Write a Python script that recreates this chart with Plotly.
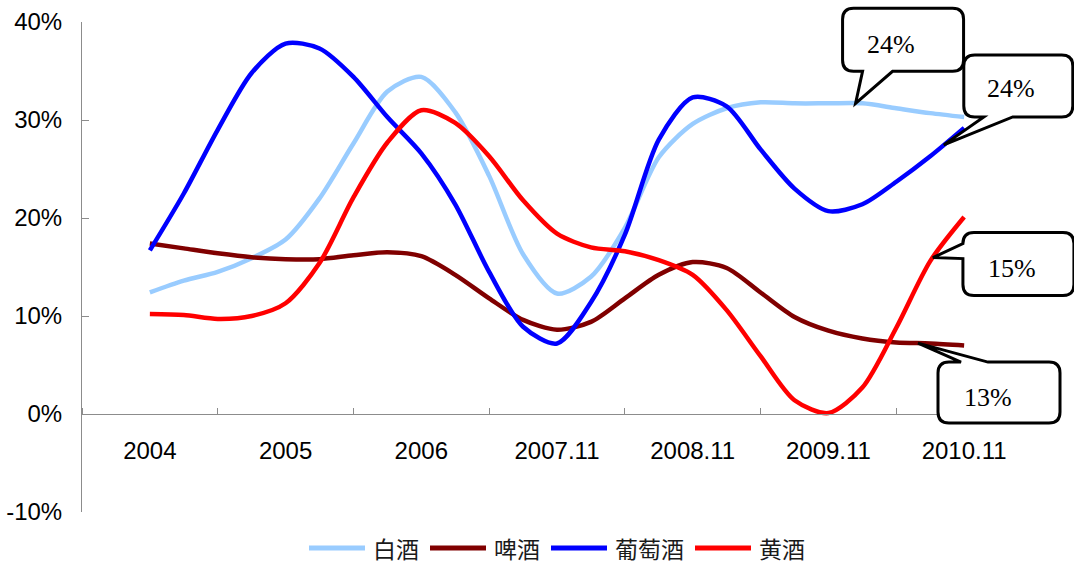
import numpy as np
import plotly.graph_objects as go

# Category labels along the x axis
periods = ["2004", "2005", "2006", "2007.11", "2008.11", "2009.11", "2010.11"]

# Value-axis ticks (%)
y_ticks = [-10, 0, 10, 20, 30, 40]

# Year-on-year growth (%), sampled every quarter of a category step
baijiu = [12.4, 13.6, 14.5, 15.9, 17.8, 22.0, 27.6, 32.9, 34.4, 30.8, 24.3, 16.3, 12.3,
          14.0, 19.0, 26.2, 29.6, 31.2, 31.8, 31.7, 31.7, 31.7, 31.2, 30.7, 30.3]
pijiu = [17.4, 16.9, 16.4, 16.0, 15.8, 15.8, 16.2, 16.5, 16.1, 14.2, 11.8, 9.6, 8.6,
         9.4, 11.8, 14.2, 15.5, 14.9, 12.4, 9.9, 8.5, 7.7, 7.3, 7.2, 7.0]
putaojiu = [16.7, 22.5, 29.0, 34.8, 37.8, 37.3, 34.4, 30.3, 26.6, 21.4, 14.5, 8.9, 7.2,
            11.4, 18.3, 28.0, 32.3, 31.4, 27.0, 23.0, 20.7, 21.4, 23.7, 26.3, 29.2]
huangjiu = [10.2, 10.1, 9.7, 10.0, 11.3, 15.4, 22.1, 27.7, 31.0, 29.7, 26.3, 21.8, 18.4,
            17.0, 16.6, 15.7, 14.2, 10.6, 5.9, 1.4, 0.1, 2.7, 8.8, 15.6, 20.1]

series_names = ["白酒", "啤酒", "葡萄酒", "黄酒"]
series_colors = ["#99CCFF", "#800000", "#0000FF", "#FF0000"]

# Callout texts
callout_texts = ["24%", "24%", "15%", "13%"]

X_MIN, X_MAX = -0.5, len(periods) - 0.5
Y_MIN, Y_MAX = y_ticks[0], y_ticks[-1]

W, H = 1074, 565
M_L, M_R, M_T, M_B = 82, 42, 22, 53
PLOT_W = W - M_L - M_R
PLOT_H = H - M_T - M_B

xs = np.linspace(0, len(periods) - 1, len(baijiu))
all_series = [baijiu, pijiu, putaojiu, huangjiu]

fig = go.Figure()
for name, vals, col in zip(series_names, all_series, series_colors):
    fig.add_trace(go.Scatter(
        x=xs, y=vals, name=name, mode="lines",
        line=dict(color=col, width=4.5, shape="spline", smoothing=0.8),
        hoverinfo="skip", showlegend=False,
    ))

AXIS_GREY = "#8c8c8c"
TICK_FONT = dict(family="Liberation Sans, Arial, sans-serif", size=24, color="#000000")

fig.update_layout(
    width=W, height=H,
    margin=dict(l=M_L, r=M_R, t=M_T, b=M_B, autoexpand=False),
    paper_bgcolor="white", plot_bgcolor="white",
    showlegend=False,
    xaxis=dict(
        range=[X_MIN, X_MAX], anchor="free",
        position=(0 - Y_MIN) / (Y_MAX - Y_MIN),
        showline=True, linecolor=AXIS_GREY, linewidth=1,
        tickmode="array", tickvals=list(range(len(periods))), ticktext=periods,
        ticks="", showgrid=False, zeroline=False, automargin=False,
        tickfont=TICK_FONT, ticklabelstandoff=15,
        minor=dict(tickmode="array",
                   tickvals=[i - 0.5 for i in range(len(periods) + 1)],
                   ticks="inside", ticklen=6, tickcolor=AXIS_GREY, showgrid=False),
    ),
    yaxis=dict(
        range=[Y_MIN, Y_MAX], tickmode="array", tickvals=y_ticks,
        ticktext=[f"{v}%" for v in y_ticks],
        showline=True, linecolor=AXIS_GREY, linewidth=1,
        ticks="inside", ticklen=7, tickcolor=AXIS_GREY,
        showgrid=False, zeroline=False, automargin=False,
        tickfont=TICK_FONT, ticklabelstandoff=14,
    ),
)


def px_to_paper_x(px):
    return (px - M_L) / PLOT_W


def px_to_paper_y(py):
    return (H - M_B - py) / PLOT_H


# Legend row under the plot: long line sample followed by the series name
LEG_FONT = 23
leg_y = px_to_paper_y(548)
cursor = 309
for name, col in zip(series_names, series_colors):
    fig.add_shape(
        type="line", xref="paper", yref="paper",
        x0=px_to_paper_x(cursor), x1=px_to_paper_x(cursor + 56), y0=leg_y, y1=leg_y,
        line=dict(color=col, width=5),
    )
    text_left = cursor + 62
    fig.add_annotation(
        xref="paper", yref="paper", x=px_to_paper_x(text_left), y=leg_y,
        text=name, showarrow=False, xanchor="left", yanchor="middle",
        font=dict(family="Noto Sans CJK SC", size=LEG_FONT, color="#1a1a1a"),
    )
    cursor = text_left + LEG_FONT * len(name) + 13


def to_paper(x, y):
    return (x - X_MIN) / (X_MAX - X_MIN), (y - Y_MIN) / (Y_MAX - Y_MIN)


def bubble_path(left, top, right, bottom, r, edge, a, b):
    """Rounded speech bubble whose tail ends at (0, 0).

    Box offsets are in screen pixels (y downwards) relative to the tail tip;
    the returned path uses plotly pixel offsets (y upwards)."""
    pts = []

    def P(cmd, *xy):
        out = []
        for i in range(0, len(xy), 2):
            out.append(f"{xy[i]:.1f},{-xy[i + 1]:.1f}")
        pts.append(cmd + " ".join(out))

    P("M", left + r, top)
    if edge == "top":
        P("L", a, top)
        P("L", 0, 0)
        P("L", b, top)
    P("L", right - r, top)
    P("Q", right, top, right, top + r)
    P("L", right, bottom - r)
    P("Q", right, bottom, right - r, bottom)
    if edge == "bottom":
        P("L", b, bottom)
        P("L", 0, 0)
        P("L", a, bottom)
    P("L", left + r, bottom)
    P("Q", left, bottom, left, bottom - r)
    if edge == "left":
        P("L", left, b)
        P("L", 0, 0)
        P("L", left, a)
    P("L", left, top + r)
    P("Q", left, top, left + r, top)
    return " ".join(pts) + " Z"


# (series index, x position of the tail tip, box geometry, tail edge, text offset)
callouts = [
    (0, 5.20, (-13, -95, 108, -32), ("bottom", 7, 37), (35, -59)),
    (2, 5.85, (20, -90, 129, -28), ("bottom", 40, 69), (67, -56)),
    (3, 5.77, (30, -25, 141, 38), ("left", -14, 1), (79, 11)),
    (1, 5.66, (20, 19, 142, 80), ("top", 43, 70), (70, 54)),
]

for text, (si, tx, box, tail, toff) in zip(callout_texts, callouts):
    ty = float(np.interp(tx, xs, all_series[si]))
    px, py = to_paper(tx, ty)
    left, top, right, bottom = box
    fig.add_shape(
        type="path", xref="paper", yref="paper",
        xsizemode="pixel", ysizemode="pixel", xanchor=px, yanchor=py,
        path=bubble_path(left, top, right, bottom, 11, *tail),
        line=dict(color="black", width=3), fillcolor="white", layer="above",
    )
    fig.add_annotation(
        xref="paper", yref="paper", x=px, y=py, text=text, showarrow=False,
        xshift=toff[0], yshift=-toff[1], xanchor="center", yanchor="middle",
        font=dict(family="Liberation Serif, Times New Roman, serif", size=26, color="black"),
    )

fig.write_html("out.html")
